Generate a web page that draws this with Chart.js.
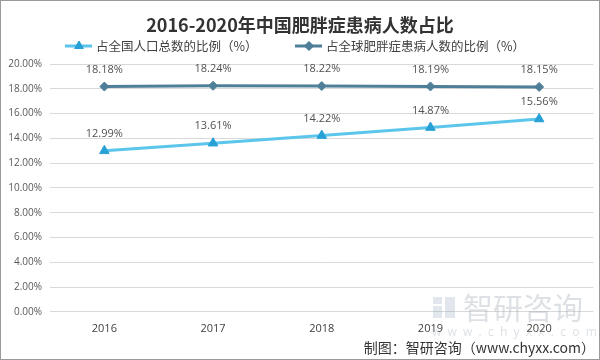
<!DOCTYPE html>
<html><head><meta charset="utf-8">
<script src="https://cdn.jsdelivr.net/npm/chart.js@4/dist/chart.umd.min.js"></script>
<style>html,body{margin:0;padding:0;background:#fff}canvas{display:block}</style>
</head><body>
<canvas id="c" width="600" height="360"></canvas>
<script>
const years = ['2016','2017','2018','2019','2020'];
const chinaShare = [12.99, 13.61, 14.22, 14.87, 15.56];
const globalShare = [18.18, 18.24, 18.22, 18.19, 18.15];
const seriesNames = ['占全国人口总数的比例（%）', '占全球肥胖症患病人数的比例（%）'];
const titleText = '2016-2020年中国肥胖症患病人数占比';
const sourceText = '制图：智研咨询（www.chyxx.com）';

const CJK = '"Noto Sans CJK SC", "Open Sans", sans-serif';
const C1 = '#5CC5EC', C1m = '#27A0D6', C2 = '#4F7F98';

const decor = {
  id: 'decor',
  afterDraw(chart) {
    const ctx = chart.ctx;
    ctx.save();
    // title
    ctx.fillStyle = '#333';
    ctx.font = 'bold 18px ' + CJK;
    ctx.textAlign = 'center'; ctx.textBaseline = 'middle';
    ctx.fillText(titleText, 300, 25);
    // legend
    const items = [[65, C1, C1m, 'triangle', 5, seriesNames[0]], [295, C2, C2, 'rectRot', 4.5, seriesNames[1]]];
    ctx.font = '12.5px ' + CJK;
    ctx.textAlign = 'left';
    items.forEach(([x, col, mcol, st, r, txt]) => {
      ctx.strokeStyle = col; ctx.lineWidth = 3;
      ctx.beginPath(); ctx.moveTo(x, 46); ctx.lineTo(x + 27, 46); ctx.stroke();
      ctx.fillStyle = mcol; ctx.strokeStyle = mcol; ctx.lineWidth = 1;
      Chart.helpers.drawPoint(ctx, {pointStyle: st, radius: r, borderWidth: 1}, x + 14, 46);
      ctx.fill();
      ctx.fillStyle = '#404040';
      ctx.fillText(txt, x + 31, 46);
    });
    // data labels
    ctx.font = '11px "Open Sans", sans-serif';
    ctx.fillStyle = '#505050';
    ctx.textAlign = 'center';
    chart.data.datasets.forEach((ds, i) => {
      const meta = chart.getDatasetMeta(i);
      meta.data.forEach((pt, j) => {
        ctx.fillText(ds.data[j].toFixed(2) + '%', pt.x, pt.y - 17);
      });
    });
    // watermark
    ctx.fillStyle = 'rgba(150,170,190,0.28)';
    ctx.fillRect(433, 297, 9, 7);
    ctx.fillRect(433, 306, 9, 12);
    ctx.fillRect(445, 297, 10, 21);
    ctx.font = '30px ' + CJK;
    ctx.textAlign = 'left';
    ctx.fillStyle = 'rgba(150,160,170,0.32)';
    ctx.fillText('智研咨询', 463, 308);
    ctx.font = '12px "Open Sans", sans-serif';
    ctx.fillText('w  w  w  .  c  h  y  x  x  .  c  o  m', 432, 333);
    // source
    ctx.fillStyle = '#333';
    ctx.font = '14px ' + CJK;
    ctx.textAlign = 'right';
    ctx.fillText(sourceText, 595, 348);
    // border
    ctx.strokeStyle = '#9a9a9a'; ctx.lineWidth = 1;
    ctx.strokeRect(0.5, 0.5, 599, 359);
    ctx.restore();
  }
};

new Chart(document.getElementById('c'), {
  type: 'line',
  data: {
    labels: years,
    datasets: [
      {label: seriesNames[0], data: chinaShare, borderColor: C1, backgroundColor: C1m, pointBorderColor: C1m,
       borderWidth: 3, pointStyle: 'triangle', pointRadius: 5.5, pointBorderWidth: 1, tension: 0},
      {label: seriesNames[1], data: globalShare, borderColor: C2, backgroundColor: C2,
       borderWidth: 3, pointStyle: 'rectRot', pointRadius: 4.5, pointBorderWidth: 1, tension: 0}
    ]
  },
  options: {
    responsive: false, animation: false,
    layout: {padding: {top: 64, right: 4, bottom: 23, left: 4}},
    plugins: {legend: {display: false}, title: {display: false}, tooltip: {enabled: false}},
    scales: {
      x: {offset: true, grid: {display: false}, border: {display: false},
          ticks: {color: '#404040', font: {size: 11, family: '"Open Sans", sans-serif'}, padding: 2}},
      y: {min: 0, max: 20, grid: {color: '#d9d9d9', drawTicks: false}, border: {display: false},
          ticks: {stepSize: 2, color: '#595959', padding: 8,
                  font: {size: 10, family: '"Open Sans", sans-serif'},
                  callback: v => v.toFixed(2) + '%'},
          afterFit(s) { s.width = 46; }}
    }
  },
  plugins: [decor]
});
</script>
</body></html>
